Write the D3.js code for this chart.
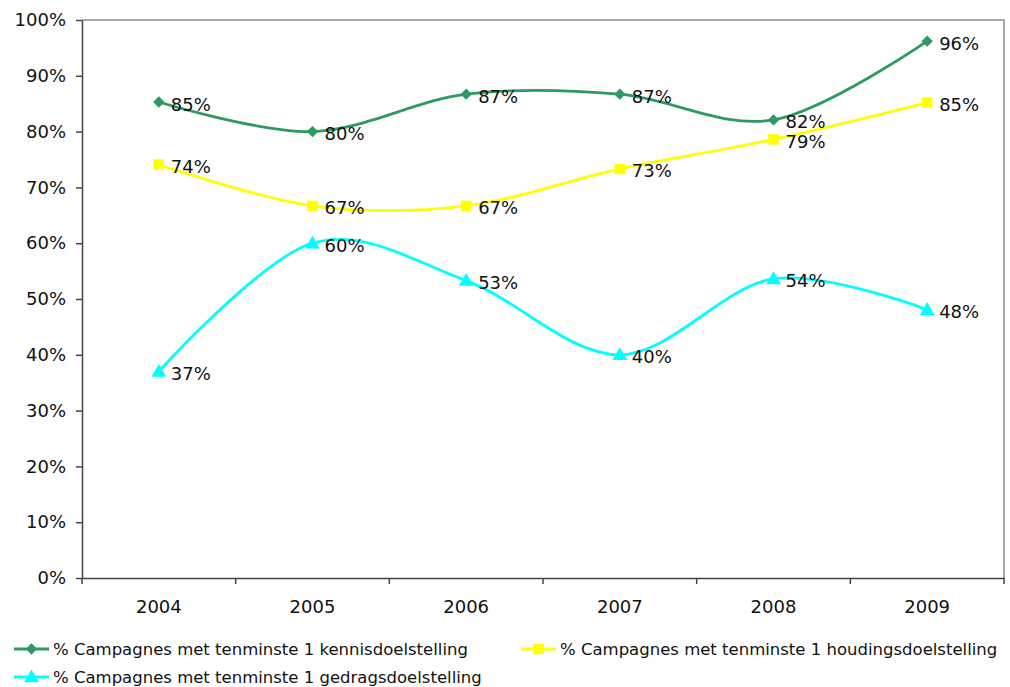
<!DOCTYPE html>
<html><head><meta charset="utf-8">
<script src="https://cdn.jsdelivr.net/npm/d3@7"></script>
<style>body{margin:0;background:#fff;} text{font-family:"DejaVu Sans",Verdana,sans-serif;fill:#111;}</style>
</head><body>
<svg id="c" width="1010" height="687"></svg>
<script>
const categories = ["2004","2005","2006","2007","2008","2009"];
const kennis = [85.3, 80.0, 86.7, 86.7, 82.1, 96.2];
const houding = [74.1, 66.7, 66.7, 73.3, 78.6, 85.2];
const gedrag = [37.0, 60.0, 53.3, 40.0, 53.6, 48.1];
const yTicks = [0,10,20,30,40,50,60,70,80,90,100];
const seriesNames = ["% Campagnes met tenminste 1 kennisdoelstelling","% Campagnes met tenminste 1 houdingsdoelstelling","% Campagnes met tenminste 1 gedragsdoelstelling"];
const colors = ["#2E9960","#FFFF00","#00FFFF"];
const symbols = [d3.symbolSquare, d3.symbolSquare, d3.symbolTriangle];
const series = [kennis, houding, gedrag];

const svg = d3.select("#c");
const L=82, R=1004, T=20, B=578;
const x = d3.scaleBand().domain(categories).range([L,R]);
const y = d3.scaleLinear().domain([0,100]).range([B,T]);

svg.append("path").attr("d",`M${L},${T}H${R}V${B}`).attr("fill","none").attr("stroke","#8c8c8c").attr("stroke-width",1.5);

const yAxis = svg.append("g").attr("transform",`translate(${L},0)`)
  .call(d3.axisLeft(y).tickValues(yTicks).tickFormat(d=>d+"%").tickSize(6).tickSizeOuter(0));
yAxis.selectAll("text").attr("font-size","18px").attr("x",-16);
yAxis.selectAll("line,path").attr("stroke","#444").attr("stroke-width",1.5);

const xAxis = svg.append("g").attr("transform",`translate(0,${B})`)
  .call(d3.axisBottom(x).tickSize(0).tickSizeOuter(0));
xAxis.selectAll("text").attr("font-size","18px").attr("dy","1.75em");
xAxis.selectAll("path").attr("stroke","#444").attr("stroke-width",1.5);
const bounds = categories.map(c=>x(c)).concat([R]);
xAxis.selectAll("line.b").data(bounds).enter().append("line").attr("class","b")
  .attr("x1",d=>d).attr("x2",d=>d).attr("y1",0).attr("y2",6).attr("stroke","#444").attr("stroke-width",1.5);

const cx = c => x(c)+x.bandwidth()/2;
const line = d3.line().x((d,i)=>cx(categories[i])).y(d=>y(d)).curve(d3.curveCardinal.tension(0));

const sizes = [64,110,95];
const rot = [45,0,0];
series.forEach((s,k)=>{
  svg.append("path").datum(s).attr("d",line).attr("fill","none").attr("stroke",colors[k]).attr("stroke-width",2.8);
});
series.forEach((s,k)=>{
  svg.selectAll(null).data(s).enter().append("path")
    .attr("d",d3.symbol().type(symbols[k]).size(sizes[k]))
    .attr("transform",(d,i)=>`translate(${cx(categories[i])},${y(d)+(k===2?1:0)}) rotate(${rot[k]})`)
    .attr("fill",colors[k]);
  svg.selectAll(null).data(s).enter().append("text")
    .attr("x",(d,i)=>cx(categories[i])+12).attr("y",d=>y(d)+8.5)
    .attr("font-size","18px").text(d=>Math.round(d)+"%");
});

const leg = [{x:14,y:649},{x:521,y:649},{x:14,y:677}];
leg.forEach((p,k)=>{
  const g = svg.append("g").attr("transform",`translate(${p.x},${p.y})`);
  g.append("line").attr("x1",0).attr("x2",35).attr("y1",0).attr("y2",0).attr("stroke",colors[k]).attr("stroke-width",2.8);
  g.append("path").attr("d",d3.symbol().type(symbols[k]).size(sizes[k])).attr("transform",`translate(17.5,${k===2?1:0}) rotate(${rot[k]})`).attr("fill",colors[k]);
  g.append("text").attr("x",39).attr("y",6).attr("font-size","16.5px").text(seriesNames[k]);
});
</script>
</body></html>
